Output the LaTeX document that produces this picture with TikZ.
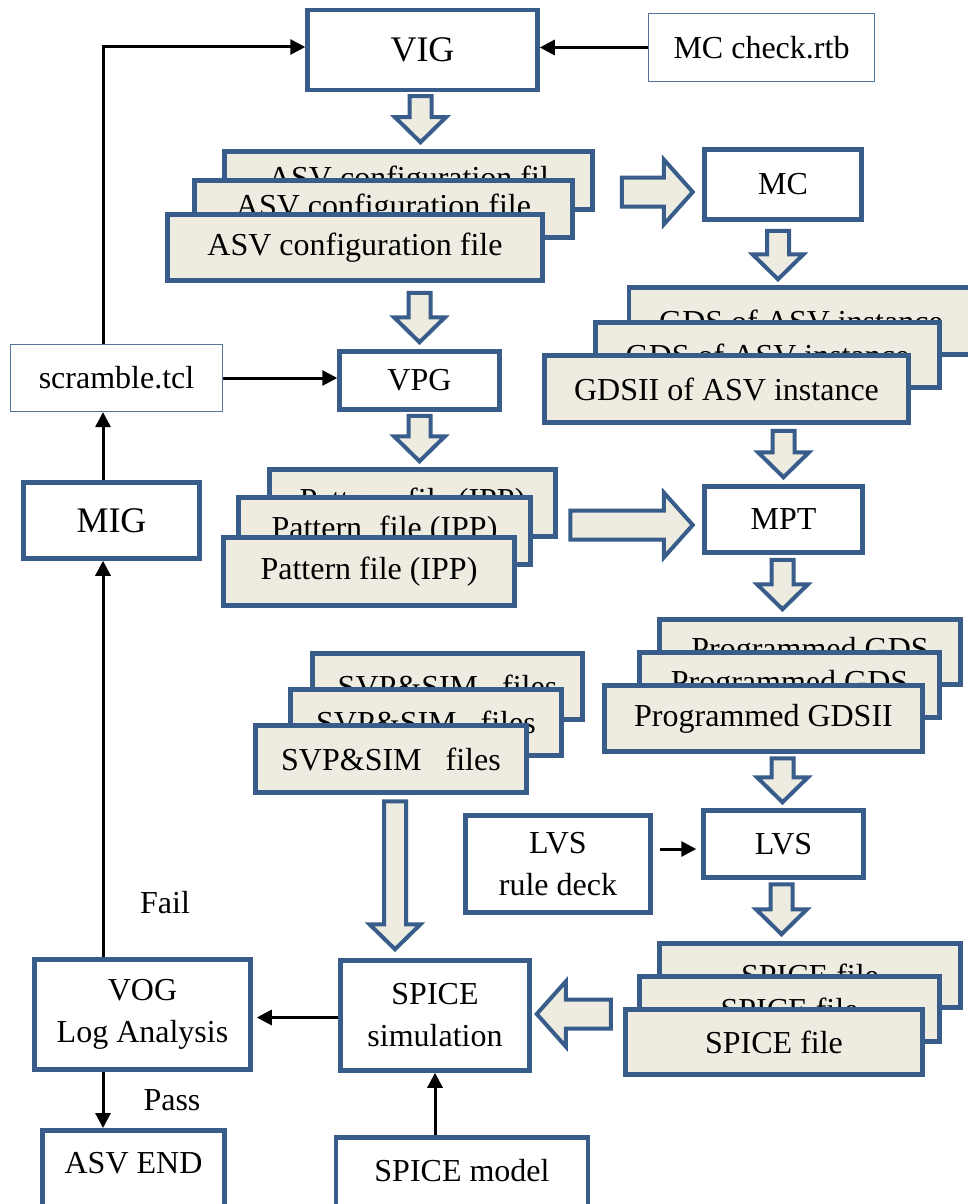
\documentclass[tikz,border=0pt]{standalone}
\usepackage{fontspec}
\setmainfont{Liberation Serif}
\usetikzlibrary{calc,arrows.meta}
\definecolor{frame}{RGB}{56,93,138}
\definecolor{paper}{RGB}{238,236,225}
\tikzset{
  proc/.style={draw=frame, line width=4.5pt, fill=white, inner sep=0pt,
               align=center, font=\fontsize{32}{42}\selectfont},
  big/.style={font=\fontsize{36}{42}\selectfont},
  filebox/.style={proc, fill=paper},
  note/.style={draw=frame!85, line width=1.2pt, fill=white, inner sep=0pt,
               font=\fontsize{32}{42}\selectfont},
  sz/.style 2 args={minimum width=#1pt, minimum height=#2pt},
  lowtext/.style={text height=22pt, text depth=17pt},
  flow/.style={line width=3pt, -{Triangle[length=15pt,width=15pt]}},
  blk/.style={draw=frame, line width=4pt, fill=paper, line join=miter},
  lbl/.style={font=\fontsize{32}{42}\selectfont, inner sep=0pt},
}
% hollow block arrows: #1 = start of shaft, #2 = tip
\newcommand\blkdown[2]{\draw[blk] ($(#1)+(-11,0)$) -- ($(#1)+(11,0)$)
  -- ($(#2)+(11,-25)$) -- ($(#2)+(25.5,-25)$) -- (#2)
  -- ($(#2)+(-25.5,-25)$) -- ($(#2)+(-11,-25)$) -- cycle;}
\newcommand\blkright[2]{\draw[blk] ($(#1)+(0,-14.5)$) -- ($(#2)+(-29,-14.5)$)
  -- ($(#2)+(-29,-32.5)$) -- (#2) -- ($(#2)+(-29,32.5)$)
  -- ($(#2)+(-29,14.5)$) -- ($(#1)+(0,14.5)$) -- cycle;}
\newcommand\blkleft[2]{\draw[blk] ($(#1)+(0,-14.5)$) -- ($(#2)+(29,-14.5)$)
  -- ($(#2)+(29,-32.5)$) -- (#2) -- ($(#2)+(29,32.5)$)
  -- ($(#2)+(29,14.5)$) -- ($(#1)+(0,14.5)$) -- cycle;}
\begin{document}
\begin{tikzpicture}[x=1pt, y=-1pt]
\clip (0,0) rectangle (968,1204);
\fill[white] (0,0) rectangle (968,1204);

% process boxes
\node[proc, big, sz={230}{80}] (vig) at (422.5,50) {VIG};
\node[note, sz={226}{68}] (mcc) at (761.5,47.5) {MC check.rtb};
\node[proc, sz={157}{70}] (mc) at (783,184.5) {MC};
\node[note, sz={212}{67}] (scr) at (116.5,378) {scramble.tcl};
\node[proc, sz={160}{58}] (vpg) at (419.5,380.5) {VPG};
\node[proc, big, sz={176}{76}] (mig) at (111.5,520.5) {MIG};
\node[proc, sz={158}{66}] (mpt) at (783.5,519.5) {MPT};
\node[proc, sz={185}{97}] (lvsdeck) at (558,864) {LVS\\rule deck};
\node[proc, sz={160}{67}] (lvs) at (783.5,844) {LVS};
\node[proc, sz={216}{110}] (vog) at (142.5,1014.5) {VOG\\Log Analysis};
\node[proc, sz={189}{110}] (spsim) at (435,1015.5) {SPICE\\simulation};
\node[proc, lowtext, sz={182}{81.5}] (asvend) at (133.5,1171) {ASV END};
\node[proc, lowtext, sz={252}{82.5}] (spmod) at (462,1178.5) {SPICE model};

% stacked file boxes, back to front
\node[filebox, sz={368}{58}] (asvb) at (408.5,180.5) {ASV configuration fil};
\node[filebox, sz={378}{57}] (asvm) at (383.5,209) {ASV configuration file};
\node[filebox, sz={375}{66}] (asvf) at (355,247.5) {ASV configuration file};

\node[filebox, sz={344}{67}] (gdsb) at (801,321) {GDS of ASV instance};
\node[filebox, sz={344}{65}] (gdsm) at (767.5,355) {GDS of ASV instance};
\node[filebox, sz={364}{67}] (gdsf) at (726.5,389) {GDSII of ASV instance};

\node[filebox, sz={286}{67}] (patb) at (412.5,503) {Pattern\hspace{17pt}file (IPP)};
\node[filebox, sz={292}{67}] (patm) at (384.5,531) {Pattern\hspace{17pt}file (IPP)};
\node[filebox, sz={291}{68}] (patf) at (369,571.5) {Pattern file (IPP)};

\node[filebox, sz={301}{65}] (pgb) at (810,652) {Programmed GDS};
\node[filebox, sz={300}{65}] (pgm) at (789.5,685) {Programmed GDS};
\node[filebox, sz={318}{66}] (pgf) at (763.5,718.5) {Programmed GDSII};

\node[filebox, sz={270}{66}] (svpb) at (447.5,686.5) {SVP\&SIM\hspace{24pt}files};
\node[filebox, sz={271}{66}] (svpm) at (426,722.5) {SVP\&SIM\hspace{24pt}files};
\node[filebox, sz={271}{67}] (svpf) at (391,759) {SVP\&SIM\hspace{24pt}files};

\node[filebox, sz={301}{64}] (spfb) at (810,975.5) {SPICE file};
\node[filebox, sz={300}{65}] (spfm) at (789.5,1009) {SPICE file};
\node[filebox, sz={297}{65}] (spf) at (774,1042) {SPICE file};

% branch labels
\node[lbl] (fail) at (165,903) {Fail};
\node[lbl] (pass) at (172,1100) {Pass};

% hollow block arrows between stages
\coordinate (a1s) at ($(vig.south)+(-2,4)$);
\coordinate (a1e) at ($(a1s |- asvb.north)+(0,-7)$);
\blkdown{a1s}{a1e}
\coordinate (a2s) at ($(vpg.north |- asvf.south)+(0,10)$);
\coordinate (a2e) at ($(vpg.north)+(0,-7)$);
\blkdown{a2s}{a2e}
\coordinate (a3s) at ($(vpg.south)+(0,4)$);
\coordinate (a3e) at ($(a3s |- patb.north)+(0,-6)$);
\blkdown{a3s}{a3e}
\coordinate (a4s) at ($(mc.south)+(-5,9)$);
\coordinate (a4e) at ($(a4s |- gdsb.north)+(0,-6)$);
\blkdown{a4s}{a4e}
\coordinate (a5s) at ($(mpt.north |- gdsf.south)+(0,6)$);
\coordinate (a5e) at ($(mpt.north)+(0,-7)$);
\blkdown{a5s}{a5e}
\coordinate (a6s) at ($(mpt.south)+(-1,5)$);
\coordinate (a6e) at ($(a6s |- pgb.north)+(0,-8)$);
\blkdown{a6s}{a6e}
\coordinate (a7s) at ($(lvs.north |- pgf.south)+(-1,4.5)$);
\coordinate (a7e) at ($(lvs.north)+(-1,-6)$);
\blkdown{a7s}{a7e}
\coordinate (a8s) at ($(lvs.south)+(-2,4.5)$);
\coordinate (a8e) at ($(a8s |- spfb.north)+(0,-7)$);
\blkdown{a8s}{a8e}
\coordinate (a9s) at ($(svpf.south)+(4,6.5)$);
\coordinate (a9e) at ($(a9s |- spsim.north)+(0,-9)$);
\blkdown{a9s}{a9e}

\coordinate (h1s) at ($(asvb.east)+(27,11.5)$);
\coordinate (h1e) at ($(h1s -| mc.west)+(-9.5,0)$);
\blkright{h1s}{h1e}
\coordinate (h2s) at ($(patb.east)+(12.5,22)$);
\coordinate (h2e) at ($(h2s -| mpt.west)+(-9.5,0)$);
\blkright{h2s}{h2e}
\coordinate (h3s) at ($(spf.west |- spsim.east)+(-12.5,-1.5)$);
\coordinate (h3e) at ($(h3s -| spsim.east)+(5,0)$);
\blkleft{h3s}{h3e}

% feedback and control connectors
\coordinate (spine) at (103,0);
\draw[flow] (mcc.west) -- (mcc.west -| vig.east);
\draw[flow, line join=miter] (scr.north -| spine) |- ($(vig.west)+(0,-3)$);
\draw[flow] (scr.east) -- (scr.east -| vpg.west);
\draw[flow] (mig.north -| spine) -- (scr.south -| spine);
\draw[flow] (vog.north -| spine) -- (mig.south -| spine);
\draw[flow] (vog.south -| spine) -- (asvend.north -| spine);
\draw[flow] ($(spsim.west)+(0,2)$) -- ($(spsim.west -| vog.east)+(4,2)$);
\draw[flow] (spmod.north -| spsim.south) -- (spsim.south);
\draw[flow] ($(lvsdeck.east |- lvs.west)+(7.5,5)$) -- ($(lvs.west)+(-5,5)$);
\end{tikzpicture}
\end{document}
